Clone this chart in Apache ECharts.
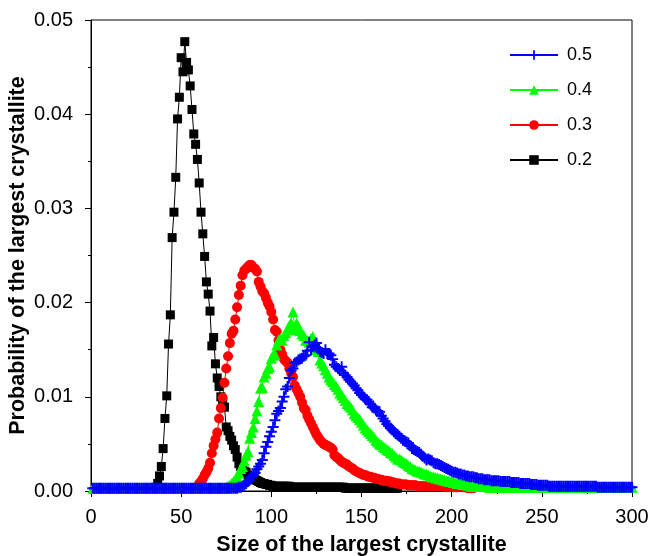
<!DOCTYPE html>
<html>
<head>
<meta charset="utf-8">
<script src="https://cdn.jsdelivr.net/npm/echarts@6/dist/echarts.min.js"></script>
<style>
html,body{margin:0;padding:0;background:#fff;}
#c{width:649px;height:556px;}
</style>
</head>
<body>
<div id="c"></div>
<script>
// ---- Data (size of the largest crystallite -> probability) ----
const xTicks = [0, 50, 100, 150, 200, 250, 300];
const yTicks = [0.00, 0.01, 0.02, 0.03, 0.04, 0.05];
const seriesNames = ['0.5', '0.4', '0.3', '0.2'];

// 0.5 (blue crosses), sizes 1..300
const start05 = 1;
const prob05 = [
  0.0003,0.0003,0.0003,0.0003,0.0003,0.0003,0.0003,0.0003,0.0003,0.0003, // 1-10
  0.0003,0.0003,0.0003,0.0003,0.0003,0.0003,0.0003,0.0003,0.0003,0.0003, // 11-20
  0.0003,0.0003,0.0003,0.0003,0.0003,0.0003,0.0003,0.0003,0.0003,0.0003, // 21-30
  0.0003,0.0003,0.0003,0.0003,0.0003,0.0003,0.0003,0.0003,0.0003,0.0003, // 31-40
  0.0003,0.0003,0.0003,0.0003,0.0003,0.0003,0.0003,0.0003,0.0003,0.0003, // 41-50
  0.0003,0.0003,0.0003,0.0003,0.0003,0.0003,0.0003,0.0003,0.0003,0.0003, // 51-60
  0.0003,0.0003,0.0003,0.0003,0.0003,0.0003,0.0003,0.0003,0.0003,0.0003, // 61-70
  0.0003,0.0003,0.0003,0.0003,0.0003,0.0003,0.0003,0.0003,0.0003,0.0003, // 71-80
  0.0003,0.0004,0.0004,0.0005,0.0006,0.0008,0.0010,0.0012,0.0015,0.0017, // 81-90
  0.0019,0.0023,0.0026,0.0029,0.0033,0.0040,0.0047,0.0052,0.0058,0.0063, // 91-100
  0.0068,0.0075,0.0082,0.0085,0.0088,0.0095,0.0100,0.0108,0.0111,0.0120, // 101-110
  0.0128,0.0130,0.0136,0.0137,0.0139,0.0140,0.0141,0.0143,0.0144,0.0149, // 111-120
  0.0158,0.0150,0.0153,0.0155,0.0157,0.0151,0.0148,0.0147,0.0146,0.0150, // 121-130
  0.0146,0.0146,0.0144,0.0140,0.0134,0.0132,0.0130,0.0128,0.0132,0.0125, // 131-140
  0.0123,0.0121,0.0118,0.0116,0.0114,0.0112,0.0109,0.0107,0.0104,0.0102, // 141-150
  0.0100,0.0098,0.0097,0.0095,0.0092,0.0089,0.0088,0.0086,0.0085,0.0084, // 151-160
  0.0080,0.0077,0.0074,0.0071,0.0069,0.0067,0.0065,0.0063,0.0061,0.0060, // 161-170
  0.0058,0.0056,0.0054,0.0053,0.0052,0.0051,0.0048,0.0045,0.0044,0.0043, // 171-180
  0.0042,0.0041,0.0039,0.0037,0.0035,0.0033,0.0034,0.0033,0.0032,0.0030, // 181-190
  0.0029,0.0029,0.0028,0.0027,0.0026,0.0025,0.0024,0.0023,0.0022,0.0021, // 191-200
  0.0020,0.0020,0.0019,0.0018,0.0018,0.0017,0.0017,0.0016,0.0016,0.0015, // 201-210
  0.0015,0.0015,0.0014,0.0014,0.0013,0.0013,0.0013,0.0012,0.0012,0.0012, // 211-220
  0.0012,0.0011,0.0011,0.0011,0.0011,0.0011,0.0010,0.0010,0.0010,0.0010, // 221-230
  0.0010,0.0010,0.0009,0.0009,0.0009,0.0009,0.0009,0.0008,0.0008,0.0008, // 231-240
  0.0008,0.0008,0.0008,0.0007,0.0007,0.0007,0.0007,0.0006,0.0006,0.0006, // 241-250
  0.0006,0.0006,0.0006,0.0005,0.0005,0.0005,0.0005,0.0005,0.0005,0.0005, // 251-260
  0.0005,0.0005,0.0005,0.0005,0.0005,0.0005,0.0005,0.0005,0.0005,0.0005, // 261-270
  0.0005,0.0005,0.0005,0.0005,0.0005,0.0005,0.0005,0.0005,0.0005,0.0005, // 271-280
  0.0004,0.0004,0.0004,0.0004,0.0004,0.0004,0.0004,0.0004,0.0004,0.0004, // 281-290
  0.0004,0.0004,0.0004,0.0004,0.0004,0.0004,0.0004,0.0004,0.0004,0.0004  // 291-300
];

// 0.4 (green triangles), sizes 1..300
const start04 = 1;
const prob04 = [
  0.0003,0.0003,0.0003,0.0003,0.0003,0.0003,0.0003,0.0003,0.0003,0.0003, // 1-10
  0.0003,0.0003,0.0003,0.0003,0.0003,0.0003,0.0003,0.0003,0.0003,0.0003, // 11-20
  0.0003,0.0003,0.0003,0.0003,0.0003,0.0003,0.0003,0.0003,0.0003,0.0003, // 21-30
  0.0003,0.0003,0.0003,0.0003,0.0003,0.0003,0.0003,0.0003,0.0003,0.0003, // 31-40
  0.0003,0.0003,0.0003,0.0003,0.0003,0.0003,0.0003,0.0003,0.0003,0.0003, // 41-50
  0.0003,0.0003,0.0003,0.0003,0.0003,0.0003,0.0003,0.0003,0.0003,0.0003, // 51-60
  0.0003,0.0003,0.0003,0.0003,0.0003,0.0003,0.0003,0.0003,0.0003,0.0003, // 61-70
  0.0003,0.0003,0.0003,0.0003,0.0004,0.0005,0.0006,0.0008,0.0010,0.0012, // 71-80
  0.0015,0.0019,0.0024,0.0026,0.0032,0.0038,0.0042,0.0056,0.0062,0.0068, // 81-90
  0.0077,0.0085,0.0095,0.0109,0.0110,0.0121,0.0125,0.0130,0.0132,0.0141, // 91-100
  0.0144,0.0145,0.0155,0.0160,0.0162,0.0160,0.0165,0.0168,0.0172,0.0176, // 101-110
  0.0178,0.0190,0.0171,0.0178,0.0175,0.0170,0.0167,0.0165,0.0160,0.0160, // 111-120
  0.0158,0.0162,0.0164,0.0158,0.0150,0.0148,0.0139,0.0136,0.0133,0.0129, // 121-130
  0.0125,0.0121,0.0118,0.0116,0.0113,0.0111,0.0108,0.0104,0.0102,0.0099, // 131-140
  0.0096,0.0093,0.0091,0.0089,0.0086,0.0082,0.0080,0.0078,0.0076,0.0073, // 141-150
  0.0070,0.0067,0.0065,0.0063,0.0061,0.0059,0.0057,0.0054,0.0052,0.0050, // 151-160
  0.0049,0.0047,0.0046,0.0044,0.0043,0.0041,0.0040,0.0038,0.0036,0.0034, // 161-170
  0.0034,0.0033,0.0031,0.0030,0.0029,0.0027,0.0026,0.0024,0.0023,0.0022, // 171-180
  0.0021,0.0021,0.0020,0.0019,0.0018,0.0018,0.0017,0.0016,0.0015,0.0015, // 181-190
  0.0014,0.0014,0.0013,0.0013,0.0012,0.0012,0.0011,0.0011,0.0010,0.0010, // 191-200
  0.0009,0.0009,0.0008,0.0008,0.0008,0.0007,0.0007,0.0007,0.0006,0.0006, // 201-210
  0.0005,0.0005,0.0005,0.0005,0.0005,0.0005,0.0005,0.0005,0.0005,0.0005, // 211-220
  0.0004,0.0004,0.0004,0.0004,0.0004,0.0004,0.0004,0.0004,0.0004,0.0004, // 221-230
  0.0004,0.0004,0.0004,0.0004,0.0004,0.0004,0.0004,0.0004,0.0004,0.0004, // 231-240
  0.0004,0.0004,0.0004,0.0004,0.0004,0.0004,0.0004,0.0004,0.0004,0.0004, // 241-250
  0.0004,0.0004,0.0004,0.0004,0.0004,0.0004,0.0004,0.0004,0.0004,0.0004, // 251-260
  0.0004,0.0004,0.0004,0.0004,0.0004,0.0004,0.0004,0.0004,0.0004,0.0004, // 261-270
  0.0004,0.0004,0.0004,0.0004,0.0004,0.0004,0.0004,0.0004,0.0004,0.0004, // 271-280
  0.0004,0.0004,0.0004,0.0004,0.0004,0.0004,0.0004,0.0004,0.0004,0.0004, // 281-290
  0.0004,0.0004,0.0004,0.0004,0.0004,0.0004,0.0004,0.0004,0.0004,0.0004  // 291-300
];

// 0.3 (red circles), sizes 57..212
const start03 = 57;
const prob03 = [
  0.0003,0.0003,0.0004,0.0008,0.0010,0.0013,0.0017,0.0020,0.0024,0.0030, // 57-66
  0.0040,0.0048,0.0055,0.0062,0.0077,0.0088,0.0099,0.0115,0.0130,0.0143, // 67-76
  0.0157,0.0167,0.0170,0.0182,0.0195,0.0208,0.0218,0.0229,0.0234,0.0236, // 77-86
  0.0238,0.0240,0.0240,0.0237,0.0236,0.0233,0.0222,0.0217,0.0212,0.0210, // 87-96
  0.0205,0.0200,0.0196,0.0190,0.0182,0.0171,0.0169,0.0160,0.0150,0.0145, // 97-106
  0.0140,0.0138,0.0136,0.0130,0.0125,0.0121,0.0112,0.0108,0.0104,0.0100, // 107-116
  0.0094,0.0088,0.0086,0.0080,0.0076,0.0072,0.0068,0.0064,0.0060,0.0057, // 117-126
  0.0054,0.0052,0.0050,0.0049,0.0048,0.0047,0.0046,0.0044,0.0038,0.0036, // 127-136
  0.0035,0.0033,0.0031,0.0030,0.0029,0.0028,0.0026,0.0025,0.0024,0.0022, // 137-146
  0.0021,0.0020,0.0019,0.0018,0.0017,0.0017,0.0016,0.0015,0.0015,0.0014, // 147-156
  0.0014,0.0013,0.0013,0.0012,0.0012,0.0011,0.0011,0.0011,0.0010,0.0010, // 157-166
  0.0009,0.0009,0.0008,0.0008,0.0008,0.0007,0.0007,0.0007,0.0007,0.0006, // 167-176
  0.0006,0.0006,0.0006,0.0006,0.0005,0.0005,0.0005,0.0005,0.0005,0.0005, // 177-186
  0.0005,0.0005,0.0005,0.0005,0.0005,0.0005,0.0005,0.0005,0.0005,0.0005, // 187-196
  0.0004,0.0004,0.0004,0.0004,0.0004,0.0004,0.0004,0.0004,0.0004,0.0004, // 197-206
  0.0004,0.0004,0.0003,0.0003,0.0003,0.0003                              // 207-212
];

// 0.2 (black squares), sizes 35..170
const start02 = 35;
const prob02 = [
  0.0003,0.0004,0.0008,0.0016,0.0026,0.0045,0.0077,0.0101,0.0156,0.0187, // 35-44
  0.0269,0.0296,0.0333,0.0395,0.0418,0.0460,0.0445,0.0477,0.0455,0.0447, // 45-54
  0.0430,0.0405,0.0379,0.0368,0.0352,0.0327,0.0296,0.0273,0.0249,0.0222, // 55-64
  0.0209,0.0191,0.0154,0.0163,0.0135,0.0120,0.0111,0.0100,0.0094,0.0089, // 65-74
  0.0068,0.0064,0.0058,0.0054,0.0048,0.0044,0.0036,0.0029,0.0026,0.0023, // 75-84
  0.0021,0.0020,0.0017,0.0015,0.0014,0.0013,0.0012,0.0011,0.0010,0.0009, // 85-94
  0.0008,0.0008,0.0007,0.0007,0.0006,0.0006,0.0005,0.0005,0.0005,0.0005, // 95-104
  0.0005,0.0005,0.0005,0.0005,0.0005,0.0005,0.0004,0.0004,0.0004,0.0004, // 105-114
  0.0004,0.0004,0.0004,0.0004,0.0004,0.0004,0.0004,0.0004,0.0004,0.0004, // 115-124
  0.0004,0.0004,0.0004,0.0004,0.0004,0.0004,0.0004,0.0004,0.0004,0.0004, // 125-134
  0.0004,0.0004,0.0004,0.0004,0.0004,0.0004,0.0003,0.0003,0.0003,0.0003, // 135-144
  0.0003,0.0003,0.0003,0.0003,0.0003,0.0003,0.0003,0.0003,0.0003,0.0003, // 145-154
  0.0003,0.0003,0.0003,0.0003,0.0003,0.0003,0.0003,0.0003,0.0003,0.0003, // 155-164
  0.0003,0.0003,0.0003,0.0003,0.0003,0.0003                              // 165-170
];

// ---- Build chart ----
const FONT = '"Liberation Sans", Arial, Helvetica, sans-serif';
const toPairs = (start, arr) => arr.map((v, i) => [start + i, v]);
const plusPath = 'path://M0,4.1 L10,4.1 L10,5.9 L0,5.9 Z M4.1,0 L5.9,0 L5.9,10 L4.1,10 Z';

const chart = echarts.init(document.getElementById('c'), null, {renderer: 'canvas'});

const axisCommon = {
  axisLine: {show: true, lineStyle: {color: '#000', width: 1}},
  axisTick: {show: true, inside: false, length: 6, lineStyle: {color: '#000', width: 1}},
  minorTick: {show: true, splitNumber: 2, length: 3, lineStyle: {color: '#000', width: 1}},
  splitLine: {show: false},
  minorSplitLine: {show: false},
  nameLocation: 'middle',
  nameMoveOverlap: false,
  nameTextStyle: {fontWeight: 'bold', fontSize: 21.5, color: '#000', fontFamily: FONT}
};

chart.setOption({
  animation: false,
  backgroundColor: '#fff',
  textStyle: {fontFamily: FONT},
  grid: {left: 91, right: 17, top: 20, bottom: 65, containLabel: false, outerBoundsMode: 'none',
         show: true, borderColor: '#000', borderWidth: 1, backgroundColor: 'transparent'},
  legend: {
    data: seriesNames,
    orient: 'vertical',
    left: 504,
    top: 41,
    itemWidth: 48,
    itemHeight: 12,
    itemGap: 17,
    textStyle: {fontSize: 18, color: '#000', fontFamily: FONT, padding: [0, 0, 0, 4]}
  },
  xAxis: Object.assign({}, axisCommon, {
    type: 'value',
    min: xTicks[0],
    max: xTicks[xTicks.length - 1],
    interval: xTicks[1] - xTicks[0],
    name: 'Size of the largest crystallite',
    nameGap: 43,
    axisLabel: {color: '#000', fontSize: 20, fontFamily: FONT, margin: 16}
  }),
  yAxis: Object.assign({}, axisCommon, {
    type: 'value',
    min: yTicks[0],
    max: yTicks[yTicks.length - 1],
    interval: 0.01,
    name: 'Probability of the largest crystallite',
    nameGap: 62,
    axisLabel: {color: '#000', fontSize: 20, fontFamily: FONT, margin: 18, formatter: v => v.toFixed(2)}
  }),
  series: [
    {name: '0.2', type: 'line', data: toPairs(start02, prob02), symbol: 'rect', symbolSize: 9,
     itemStyle: {color: '#000000'}, lineStyle: {color: '#000000', width: 1}},
    {name: '0.3', type: 'line', data: toPairs(start03, prob03), symbol: 'circle', symbolSize: 10,
     itemStyle: {color: '#ff0000'}, lineStyle: {color: '#ff0000', width: 1}},
    {name: '0.4', type: 'line', data: toPairs(start04, prob04), symbol: 'triangle', symbolSize: 11,
     itemStyle: {color: '#00ff00'}, lineStyle: {color: '#00ff00', width: 1}},
    {name: '0.5', type: 'line', data: toPairs(start05, prob05), symbol: plusPath, symbolSize: 11,
     itemStyle: {color: '#0000ff'}, lineStyle: {color: '#0000ff', width: 1}}
  ]
});
</script>
</body>
</html>
